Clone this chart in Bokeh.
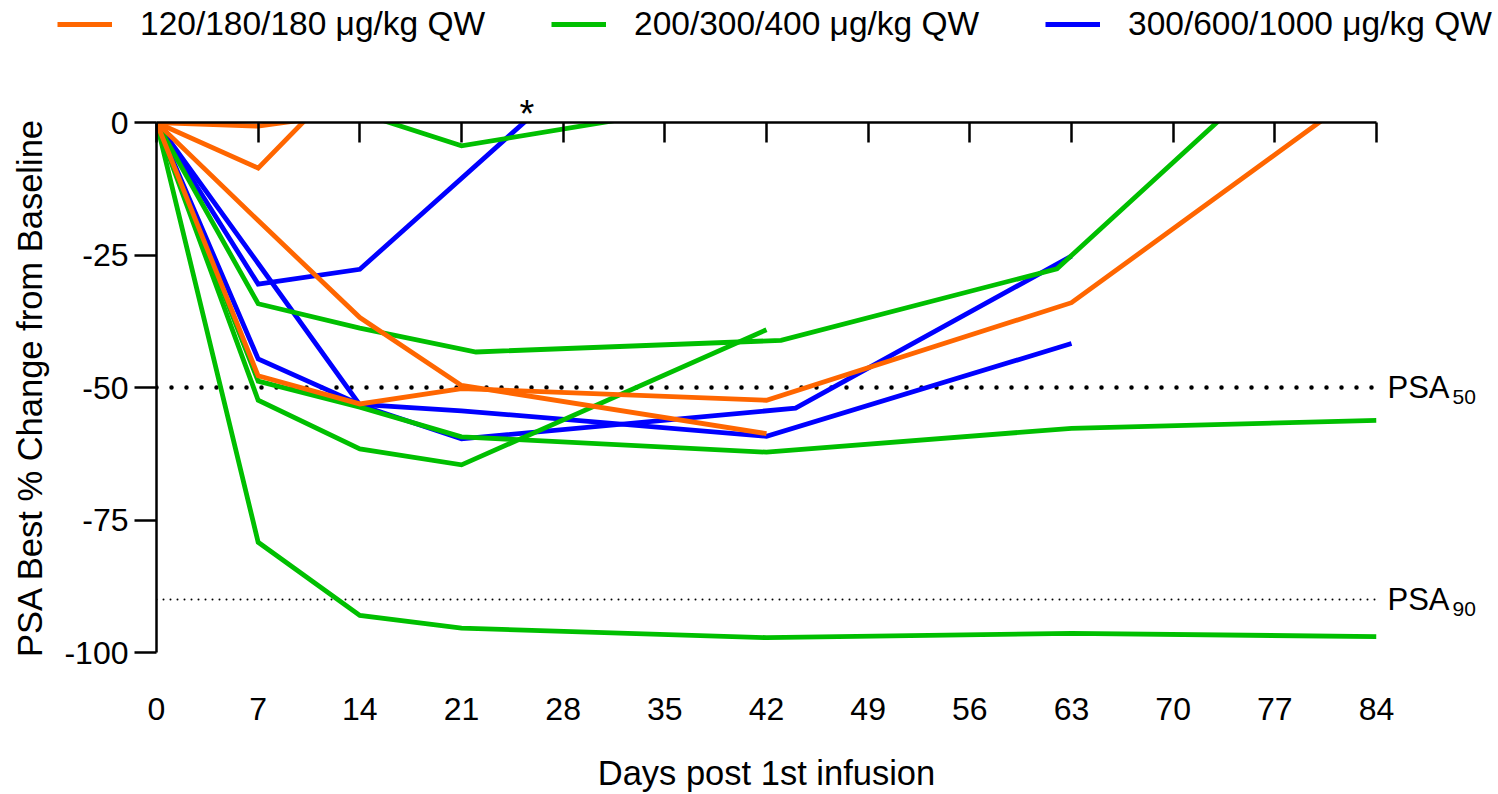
from bokeh.plotting import figure
from bokeh.models import (Range1d, FixedTicker, LinearAxis, Legend, LegendItem,
                          CustomLabelingPolicy)
from bokeh.embed import file_html
from bokeh.resources import INLINE

FONT = "Liberation Sans"

# Axis ticks
DAY_TICKS = [0, 7, 14, 21, 28, 35, 42, 49, 56, 63, 70, 77, 84]
PCT_TICKS = [0, -25, -50, -75, -100]
LAST_DAY = 84

# Response thresholds
PSA50 = -50
PSA90 = -90
THRESHOLDS = [PSA50, PSA90]
THRESH_MAIN = {PSA50: "PSA", PSA90: "PSA"}
THRESH_SUB = {PSA50: "50", PSA90: "90"}

# Cohort labels and colours
COHORTS = ["120/180/180 \u03bcg/kg QW", "200/300/400 \u03bcg/kg QW", "300/600/1000 \u03bcg/kg QW"]
COLORS = ["#FF6600", "#00BF00", "#0000FF"]

# 120/180/180 µg/kg QW patients (day, % change)
o1_days = [0, 7, 14]
o1_pct = [0, -0.7, 2.0]
o2_days = [0, 7, 14]
o2_pct = [0, -8.6, 11.0]
o3_days = [0, 7, 14, 21, 42]
o3_pct = [0, -18.5, -36.8, -49.6, -58.7]
o4_days = [0, 7, 14, 21, 42, 63, 84]
o4_pct = [0, -47.8, -53.1, -50.2, -52.4, -34.0, 7.9]

# 200/300/400 µg/kg QW patients
g1_days = [0, 7, 14, 21, 42, 63, 84]
g1_pct = [0, -79.2, -93.0, -95.4, -97.2, -96.4, -97.0]
g2_days = [0, 7, 14, 21, 42]
g2_pct = [0, -52.4, -61.6, -64.6, -39.1]
g3_days = [0, 7, 14, 21, 42, 63, 84]
g3_pct = [0, -48.8, -53.7, -59.3, -62.2, -57.7, -56.2]
g4_days = [0, 7, 14, 22, 43, 62, 84]
g4_pct = [0, -34.2, -38.8, -43.3, -41.1, -27.6, 27.6]
g5_days = [0, 7, 14, 21, 42]
g5_pct = [0, 4.0, 1.8, -4.4, 5.1]

# 300/600/1000 µg/kg QW patients
b1_days = [0, 7, 14, 28]
b1_pct = [0, -30.5, -27.7, 6.6]
b2_days = [0, 7, 14, 21, 42, 63]
b2_pct = [0, -44.6, -53.2, -54.4, -59.2, -41.7]
b3_days = [0, 7, 14, 21, 44, 63]
b3_pct = [0, -26.6, -53.3, -59.7, -53.9, -25.2]

# Patient flagged with an asterisk (day where the curve leaves the plot)
STAR_DAY = 25.5

# ---- layout (pixels) ----
W, H = 1498, 794
HEADER_H = 82                       # strip with the legend
LEFT, RIGHT, TOP, BOTTOM = 156, 122, 40, 141
MAIN_H = H - HEADER_H
FRAME_W = W - LEFT - RIGHT
FRAME_H = MAIN_H - TOP - BOTTOM
px_per_day = FRAME_W / LAST_DAY
SUB_DROP_PX = 10                    # subscripts sit a little below the line
sub_drop = SUB_DROP_PX * 100 / FRAME_H

# ---- main plot ----
p = figure(width=W, height=MAIN_H,
           x_range=Range1d(0, LAST_DAY), y_range=Range1d(-100, 0),
           output_backend="svg", toolbar_location=None,
           min_border_left=LEFT, min_border_right=RIGHT,
           min_border_top=TOP, min_border_bottom=BOTTOM)
p.outline_line_color = None
p.grid.visible = False
p.extra_y_ranges = {"sub": Range1d(-100 + sub_drop, sub_drop)}

# Bottom axis: tick labels and title only
xa = p.xaxis[0]
xa.ticker = FixedTicker(ticks=DAY_TICKS)
xa.axis_line_color = None
xa.major_tick_line_color = None
xa.minor_tick_line_color = None
xa.major_tick_out = 0
xa.major_label_standoff = 45
xa.major_label_text_font = FONT
xa.major_label_text_font_size = "32px"
xa.major_label_text_color = "black"
xa.axis_label = "Days post 1st infusion"
xa.axis_label_text_font = FONT
xa.axis_label_text_font_size = "34.5px"
xa.axis_label_text_font_style = "normal"
xa.axis_label_text_color = "black"
xa.axis_label_standoff = 31

# Axis line along 0 % with ticks hanging into the plot, no labels
top = LinearAxis(ticker=FixedTicker(ticks=DAY_TICKS),
                 major_tick_in=20, major_tick_out=0,
                 axis_line_width=2.5, major_tick_line_width=2.5,
                 axis_line_color="black", major_tick_line_color="black",
                 minor_tick_line_color=None,
                 major_label_policy=CustomLabelingPolicy(code="return []"),
                 major_label_text_font_size="0px", major_label_standoff=0)
p.add_layout(top, "above")

# Asterisk marking one patient, just above the 0 % line
star = LinearAxis(ticker=FixedTicker(ticks=[STAR_DAY]),
                  major_label_overrides={STAR_DAY: "*"},
                  axis_line_color=None, major_tick_line_color=None,
                  minor_tick_line_color=None, major_tick_in=0, major_tick_out=0,
                  major_label_standoff=-12, major_label_text_font=FONT,
                  major_label_text_font_size="38px",
                  major_label_text_color="black")
p.add_layout(star, "above")

ya = p.yaxis[0]
ya.ticker = FixedTicker(ticks=PCT_TICKS)
ya.major_label_overrides = {t: str(t) for t in PCT_TICKS}
ya.major_tick_out = 22
ya.major_tick_in = 0
ya.axis_line_width = 2.5
ya.major_tick_line_width = 2.5
ya.axis_line_color = "black"
ya.major_tick_line_color = "black"
ya.minor_tick_line_color = None
ya.major_label_standoff = 6
ya.major_label_text_font = FONT
ya.major_label_text_font_size = "32px"
ya.major_label_text_color = "black"
ya.axis_label = "PSA Best % Change from Baseline"
ya.axis_label_text_font = FONT
ya.axis_label_text_font_size = "34.5px"
ya.axis_label_text_font_style = "normal"
ya.axis_label_text_color = "black"
ya.axis_label_standoff = 12

# Threshold names (right side) and their subscripts
thr = LinearAxis(ticker=FixedTicker(ticks=THRESHOLDS),
                 major_label_overrides=THRESH_MAIN,
                 axis_line_color=None, major_tick_line_color=None,
                 minor_tick_line_color=None, major_tick_in=0, major_tick_out=0,
                 major_label_standoff=11, major_label_text_font=FONT,
                 major_label_text_font_size="31px", major_label_text_color="black")
p.add_layout(thr, "right")
thr_sub = LinearAxis(y_range_name="sub", ticker=FixedTicker(ticks=THRESHOLDS),
                     major_label_overrides=THRESH_SUB,
                     axis_line_color=None, major_tick_line_color=None,
                     minor_tick_line_color=None, major_tick_in=0, major_tick_out=0,
                     major_label_standoff=0, major_label_text_font=FONT,
                     major_label_text_font_size="21px",
                     major_label_text_color="black")
p.add_layout(thr_sub, "right")

# Threshold lines from day 0 to the last visit
p.segment(x0=[0], y0=[PSA50], x1=[LAST_DAY], y1=[PSA50], line_color="black",
          line_width=4.5, line_dash="0 15", line_cap="round")
p.segment(x0=[0], y0=[PSA90], x1=[LAST_DAY], y1=[PSA90], line_color="black",
          line_width=2, line_dash="0 7", line_cap="round")

LW = 4.8
for d, v in [(b1_days, b1_pct), (b2_days, b2_pct), (b3_days, b3_pct)]:
    p.line(d, v, line_color=COLORS[2], line_width=LW, line_join="miter")
for d, v in [(g1_days, g1_pct), (g2_days, g2_pct), (g3_days, g3_pct),
             (g4_days, g4_pct), (g5_days, g5_pct)]:
    p.line(d, v, line_color=COLORS[1], line_width=LW, line_join="miter")
for d, v in [(o1_days, o1_pct), (o2_days, o2_pct), (o3_days, o3_pct),
             (o4_days, o4_pct)]:
    p.line(d, v, line_color=COLORS[0], line_width=LW, line_join="miter")

# ---- header strip: legend on the same day scale, frame spans the full width ----
x_lo = -LEFT / px_per_day
x_hi = LAST_DAY + RIGHT / px_per_day
h = figure(width=W, height=HEADER_H,
           x_range=Range1d(x_lo, x_hi), y_range=Range1d(1, 2),
           x_axis_type=None, y_axis_type=None,
           output_backend="svg", toolbar_location=None, min_border=0)
h.grid.visible = False
h.outline_line_color = None

# Legend keys: one series per cohort, all below this strip's visible range
keys = [h.line(o3_days, o3_pct, line_color=COLORS[0], line_width=5),
        h.line(g1_days, g1_pct, line_color=COLORS[1], line_width=5),
        h.line(b2_days, b2_pct, line_color=COLORS[2], line_width=5)]
legend = Legend(items=[LegendItem(label=lab, renderers=[r])
                       for lab, r in zip(COHORTS, keys)],
                orientation="horizontal", location=(57, HEADER_H - 44),
                padding=0, margin=0, border_line_color=None,
                background_fill_alpha=0, glyph_width=55, glyph_height=40,
                label_height=40, label_width=349, label_standoff=28,
                spacing=62, label_text_font=FONT, label_text_font_size="33.5px",
                label_text_color="black")
h.add_layout(legend)

open("out.html", "w").write(file_html([h, p], INLINE))
